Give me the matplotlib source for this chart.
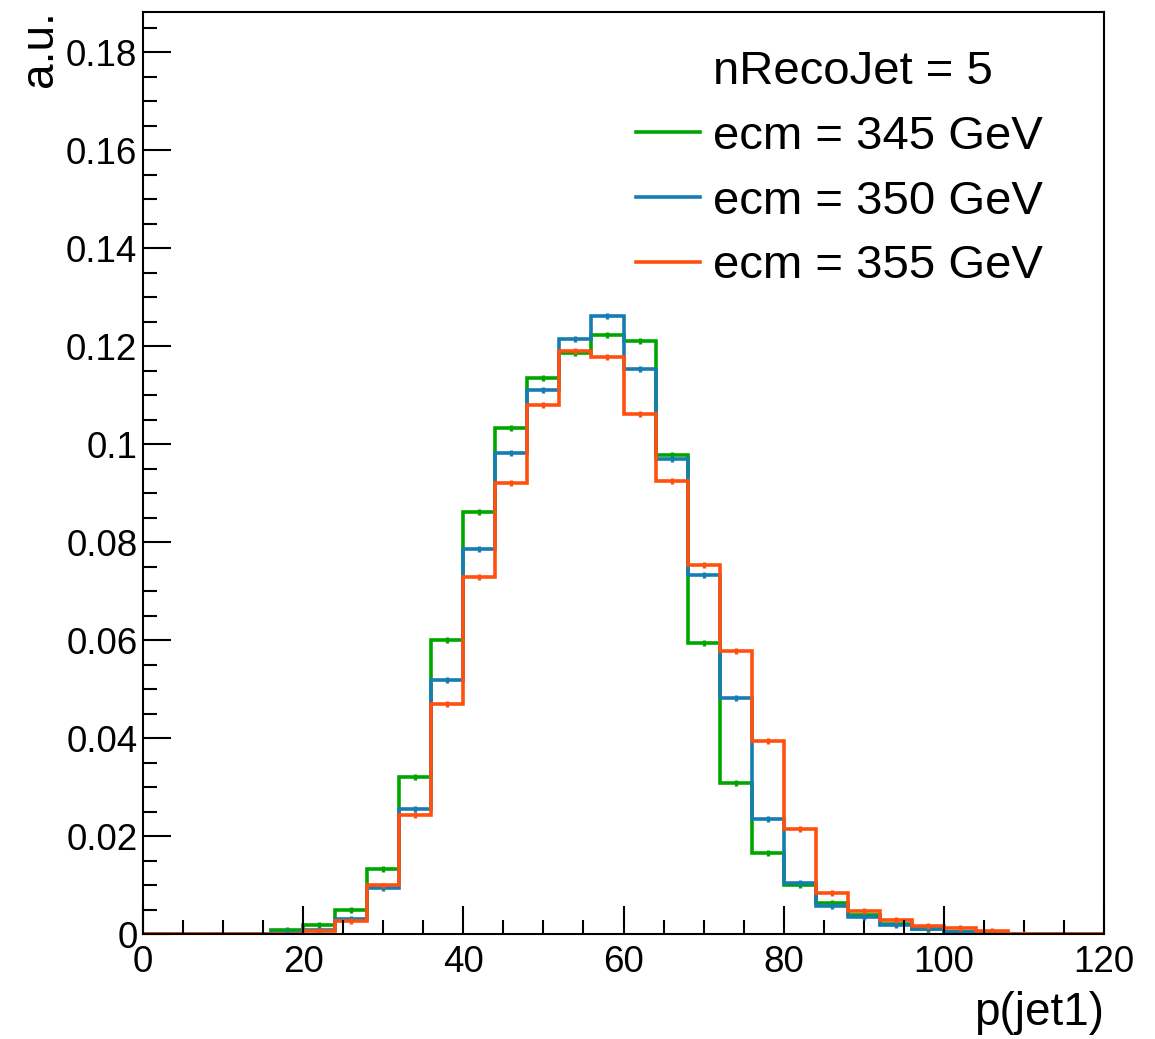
import numpy as np
import matplotlib as mpl
import matplotlib.pyplot as plt
from matplotlib.lines import Line2D
from matplotlib.ticker import MultipleLocator

# bin edges p(jet1): 30 bins of 4 GeV
edges = np.arange(0, 124, 4)

# normalised contents
h_345 = [0, 0, 0, 0, 0.0008, 0.0018, 0.0049, 0.0133, 0.0320, 0.0600,
         0.0861, 0.1033, 0.1135, 0.1185, 0.1223, 0.1210, 0.0978, 0.0594,
         0.0309, 0.0165, 0.0100, 0.0063, 0.0039, 0.0020, 0.0010, 0.0005,
         0.0002, 0, 0, 0]
h_350 = [0, 0, 0, 0, 0.0002, 0.0008, 0.0030, 0.0093, 0.0255, 0.0518,
         0.0786, 0.0982, 0.1110, 0.1214, 0.1261, 0.1153, 0.0970, 0.0733,
         0.0482, 0.0235, 0.0104, 0.0057, 0.0035, 0.0018, 0.0011, 0.0004,
         0.0002, 0, 0, 0]
h_355 = [0, 0, 0, 0, 0, 0.0007, 0.0027, 0.0099, 0.0243, 0.0470,
         0.0729, 0.0920, 0.1080, 0.1190, 0.1177, 0.1061, 0.0925, 0.0754,
         0.0578, 0.0394, 0.0214, 0.0084, 0.0047, 0.0029, 0.0016, 0.0012,
         0.0007, 0.0001, 0, 0]

labels = ['ecm = 345 GeV', 'ecm = 350 GeV', 'ecm = 355 GeV']
colors = ['#00a600', '#167cb2', '#ff5010']
header = 'nRecoJet = 5'

ytick_vals = [0, 0.02, 0.04, 0.06, 0.08, 0.1, 0.12, 0.14, 0.16, 0.18]
ytick_labels = ['0', '0.02', '0.04', '0.06', '0.08', '0.1', '0.12', '0.14', '0.16', '0.18']

plt.rcParams['font.family'] = ['Liberation Sans', 'DejaVu Sans']

fig = plt.figure(figsize=(11.55, 10.39), dpi=100)
ax = fig.add_axes([143 / 1155, 1 - 934 / 1039, (1104 - 143) / 1155, (934 - 12) / 1039])

centers = 0.5 * (edges[:-1] + edges[1:])
for vals, col in zip([h_345, h_350, h_355], colors):
    vals = np.array(vals)
    ax.stairs(vals, edges, color=col, lw=2.6)
    nz = vals > 0
    ax.errorbar(centers[nz], vals[nz], yerr=0.0006, fmt='none', ecolor=col, elinewidth=2.4)

ax.set_xlim(0, 120)
ax.set_ylim(0, 0.1882)
ax.set_yticks(ytick_vals)
ax.set_yticklabels(ytick_labels)
ax.xaxis.set_major_locator(MultipleLocator(20))
ax.xaxis.set_minor_locator(MultipleLocator(5))
ax.yaxis.set_minor_locator(MultipleLocator(0.005))
ax.tick_params(which='both', direction='in', top=False, right=False, width=1.5)
ax.tick_params(which='major', length=20)
ax.tick_params(which='minor', length=10)
ax.tick_params(axis='y', labelsize=26.5, pad=4)
ax.tick_params(axis='x', labelsize=26.5, pad=8)
for sp in ax.spines.values():
    sp.set_linewidth(1.5)

fig.text(1104 / 1155, 1 - 1035 / 1039, 'p(jet1)', ha='right', va='bottom', fontsize=33)
fig.text(18 / 1155, 1 - 10 / 1039, 'a.u.', ha='left', va='top', rotation=90, fontsize=33)

handles = [Line2D([], [], color='none')] + [Line2D([], [], color=c, lw=2.6) for c in colors]
ax.legend(handles, [header] + labels, loc='upper left',
          bbox_to_anchor=(636 / 1155, 1 - 50 / 1039), bbox_transform=fig.transFigure,
          frameon=False, fontsize=34, handlelength=1.36, handletextpad=0.27,
          labelspacing=0.44, borderpad=0, borderaxespad=0)

plt.savefig('out.png', dpi=100)
